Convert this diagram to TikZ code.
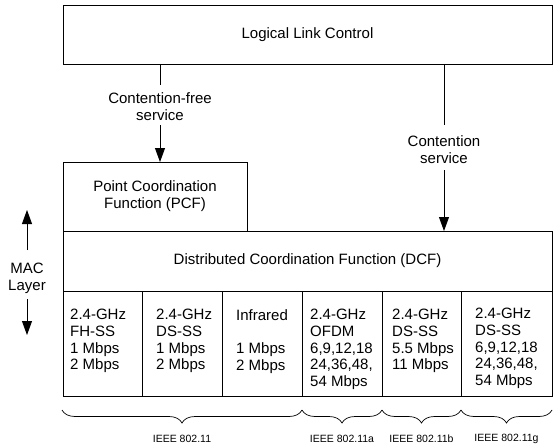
\documentclass[tikz,border=0pt]{standalone}
\usepackage{fontspec}
\setmainfont{Liberation Sans}
\usetikzlibrary{arrows.meta,decorations.pathreplacing}
\begin{document}
\begin{tikzpicture}[x=1pt,y=-1pt,
  box/.style={draw, line width=0.8pt, anchor=north west, inner sep=0pt, outer sep=0pt,
    font=\fontsize{15}{17}\selectfont, align=center},
  body/.style={font=\fontsize{15}{17}\selectfont, align=center, inner sep=0pt},
  celltext/.style={font=\fontsize{15}{16.75}\selectfont, align=left, anchor=north west, inner sep=0pt},
  conn/.style={line width=0.8pt},
  arr/.style={conn, -{Triangle[length=14pt,width=10pt]}},
  brc/.style={line width=0.7pt, decorate, decoration={brace, mirror, amplitude=13pt}},
  ieee/.style={font=\fontsize{10.5}{12}\selectfont, inner sep=0pt}]
\useasboundingbox (0,0) rectangle (554,444);

% layer boxes
\node[box, minimum width=489pt, minimum height=59pt] (llc) at (63,5) {Logical Link Control};
\node[box, minimum width=184pt, minimum height=69pt] (pcf) at (63,162) {Point Coordination\\Function (PCF)};
\node[box, minimum width=489pt, minimum height=60pt] (dcf) at (63,231) {Distributed Coordination Function (DCF)};

% physical layer cells
\node[box, minimum width=79pt, minimum height=105pt] (c1) at (63,291) {};
\node[box, minimum width=80pt, minimum height=105pt] (c2) at (142,291) {};
\node[box, minimum width=80pt, minimum height=105pt] (c3) at (222,291) {};
\node[box, minimum width=80pt, minimum height=105pt] (c4) at (302,291) {};
\node[box, minimum width=79pt, minimum height=105pt] (c5) at (382,291) {};
\node[box, minimum width=91pt, minimum height=105pt] (c6) at (461,291) {};

\node[celltext] (t1) at (70,309) {2.4-GHz\\FH-SS\\1 Mbps\\2 Mbps};
\node[celltext] (t2) at (156,309) {2.4-GHz\\DS-SS\\1 Mbps\\2 Mbps};
\node[celltext] (t3) at (236,309) {Infrared\\\mbox{}\\1 Mbps\\2 Mbps};
\node[celltext] (t4) at (310,309) {2.4-GHz\\OFDM\\6,9,12,18\\24,36,48,\\54 Mbps};
\node[celltext] (t5) at (392,309) {2.4-GHz\\DS-SS\\5.5 Mbps\\11 Mbps};
\node[celltext] (t6) at (475,308) {2.4-GHz\\DS-SS\\6,9,12,18\\24,36,48,\\54 Mbps};

% service access paths
\node[body] (cf) at (160,106.5) {Contention-free\\service};
\draw[conn, shorten >=7.5pt] (llc.south -| cf.north) -- (cf.north);
\draw[arr, shorten <=4.5pt] (cf.south) -- (cf.south |- pcf.north);

\node[body] (cs) at (444,150) {Contention\\service};
\draw[conn, shorten >=10.5pt] (llc.south -| cs.north) -- (cs.north);
\draw[arr, shorten <=6pt] (cs.south) -- (cs.south |- dcf.north);

% MAC layer extent
\node[body] (mac) at (27,278) {MAC\\Layer};
\coordinate (macup) at (27,210);
\coordinate (macdn) at (27,335);
\draw[arr, shorten <=12.5pt] (mac.north) -- (macup);
\draw[arr, shorten <=6pt] (mac.south) -- (macdn);

% standards braces
\draw[brc] ([shift={(-1pt,-14pt)}]c1.south west) -- ([yshift=-14pt]c3.south east)
  node[ieee, midway, yshift=-28.5pt] {IEEE 802.11};
\draw[brc] ([yshift=-14pt]c4.south west) -- ([yshift=-14pt]c4.south east)
  node[ieee, midway, yshift=-28.5pt] {IEEE 802.11a};
\draw[brc] ([yshift=-14pt]c5.south west) -- ([yshift=-14pt]c5.south east)
  node[ieee, midway, yshift=-28.5pt] {IEEE 802.11b};
\draw[brc] ([yshift=-14pt]c6.south west) -- ([yshift=-14pt]c6.south east)
  node[ieee, midway, yshift=-28.5pt] {IEEE 802.11g};
\end{tikzpicture}
\end{document}
